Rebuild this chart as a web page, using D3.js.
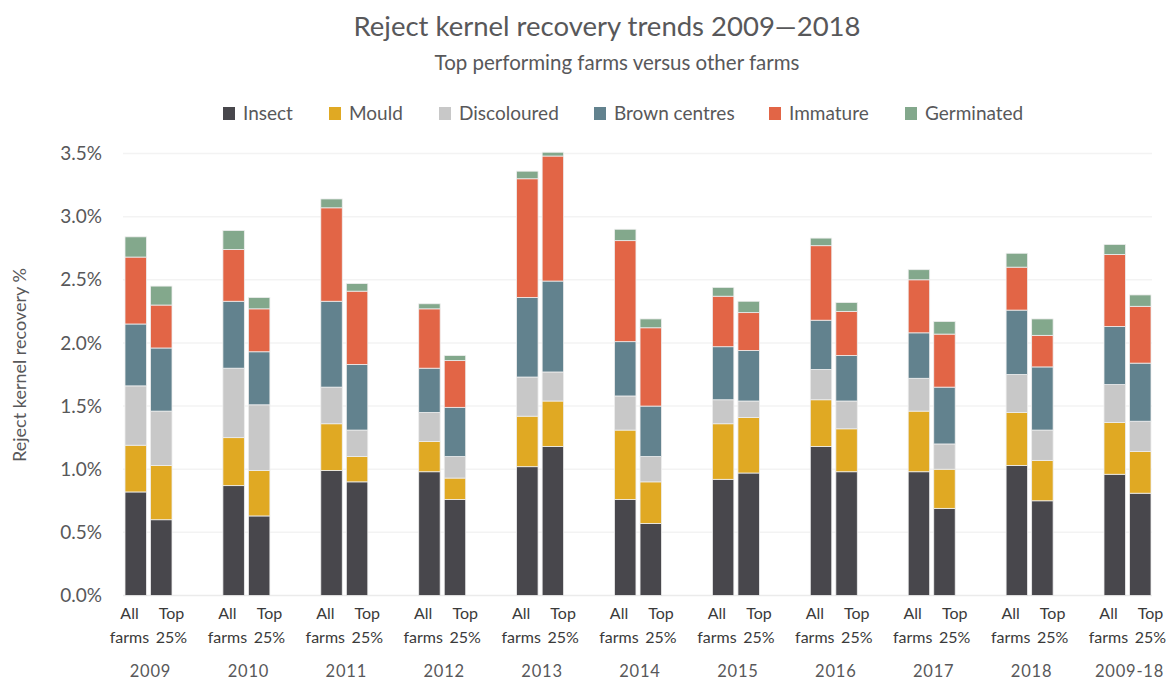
<!DOCTYPE html>
<html>
<head>
<meta charset="utf-8">
<script src="https://cdn.jsdelivr.net/npm/d3@7/dist/d3.min.js"></script>
<style>
  html, body { margin: 0; padding: 0; background: #fff; }
  svg { display: block; font-family: Lato, "Open Sans", sans-serif; }
</style>
</head>
<body>
<svg id="chart" width="1168" height="682"></svg>
<script>
// Reject kernel recovery (%) by category, stacked from Insect upwards
const years = ["2009", "2010", "2011", "2012", "2013", "2014", "2015", "2016", "2017", "2018", "2009-18"];
const groups = ["All farms", "Top 25%"];
const categories = ["Insect", "Mould", "Discoloured", "Brown centres", "Immature", "Germinated"];
const colors = ["#48474c", "#e0a923", "#c8c8c8", "#62828e", "#e26546", "#83a88c"];
const yTicks = [0, 0.5, 1.0, 1.5, 2.0, 2.5, 3.0, 3.5];

// One array per category; each holds [All farms, Top 25%] pairs in year order
const insect      = [[0.82, 0.60], [0.87, 0.63], [0.99, 0.90], [0.98, 0.76], [1.02, 1.18], [0.76, 0.57], [0.92, 0.97], [1.18, 0.98], [0.98, 0.69], [1.03, 0.75], [0.96, 0.81]];
const mould       = [[0.37, 0.43], [0.38, 0.36], [0.37, 0.20], [0.24, 0.17], [0.40, 0.36], [0.55, 0.33], [0.44, 0.44], [0.37, 0.34], [0.48, 0.31], [0.42, 0.32], [0.41, 0.33]];
const discoloured = [[0.47, 0.43], [0.55, 0.52], [0.29, 0.21], [0.23, 0.17], [0.31, 0.23], [0.27, 0.20], [0.19, 0.13], [0.24, 0.22], [0.26, 0.20], [0.30, 0.24], [0.30, 0.24]];
const brown       = [[0.49, 0.50], [0.53, 0.42], [0.68, 0.52], [0.35, 0.39], [0.63, 0.72], [0.43, 0.40], [0.42, 0.40], [0.39, 0.36], [0.36, 0.45], [0.51, 0.50], [0.46, 0.46]];
const immature    = [[0.53, 0.34], [0.41, 0.34], [0.74, 0.58], [0.47, 0.37], [0.94, 0.99], [0.80, 0.62], [0.40, 0.30], [0.59, 0.35], [0.42, 0.42], [0.34, 0.25], [0.57, 0.45]];
const germinated  = [[0.16, 0.15], [0.15, 0.09], [0.07, 0.06], [0.04, 0.04], [0.06, 0.03], [0.09, 0.07], [0.07, 0.09], [0.06, 0.07], [0.08, 0.10], [0.11, 0.13], [0.08, 0.09]];

const seriesValues = [insect, mould, discoloured, brown, immature, germinated];

// Flatten into one row per bar for d3.stack
const rows = [];
years.forEach((yr, i) => {
  groups.forEach((g, j) => {
    const row = { year: yr, group: g };
    categories.forEach((c, k) => { row[c] = seriesValues[k][i][j]; });
    rows.push(row);
  });
});

const svg = d3.select("#chart");
const textColor = "#58585a";

const x = d3.scalePoint().domain(years).range([148.5, 1127.5]);
const xInner = d3.scaleBand().domain(groups).range([-23.5, 23.5]).paddingInner(0.16);
const y = d3.scaleLinear().domain([0, 3.5]).range([595.5, 153.5]);
const color = d3.scaleOrdinal().domain(categories).range(colors);

// Title and subtitle
svg.append("text")
  .attr("x", 607).attr("y", 36)
  .attr("text-anchor", "middle")
  .attr("font-size", 27.5).attr("fill", textColor)
  .text("Reject kernel recovery trends 2009\u20142018");
svg.append("text")
  .attr("x", 617).attr("y", 70)
  .attr("text-anchor", "middle")
  .attr("font-size", 20.5).attr("fill", textColor)
  .text("Top performing farms versus other farms");

// Legend
const legendX = [243, 349, 459, 614, 789, 925];
const legend = svg.append("g").selectAll("g")
  .data(categories).join("g")
  .attr("transform", (d, i) => `translate(${legendX[i]},113)`);
legend.append("rect")
  .attr("x", -20).attr("y", -6).attr("width", 12).attr("height", 13)
  .attr("fill", d => color(d));
legend.append("text")
  .attr("x", 0).attr("y", 0).attr("dy", "0.35em")
  .attr("font-size", 19).attr("fill", textColor)
  .text(d => d);

// Gridlines
svg.append("g").selectAll("line")
  .data(yTicks).join("line")
  .attr("x1", 123).attr("x2", 1152)
  .attr("y1", d => y(d)).attr("y2", d => y(d))
  .attr("stroke", d => d === 0 ? "#ebebeb" : "#f3f3f3")
  .attr("stroke-width", 1.5);

// Y axis labels
const yAxis = d3.axisLeft(y).tickValues(yTicks)
  .tickFormat(d => d3.format(".1f")(d) + "%").tickSize(0).tickPadding(0);
svg.append("g")
  .attr("transform", "translate(102,0)")
  .call(yAxis)
  .call(g => g.select(".domain").remove())
  .call(g => g.selectAll("text")
    .attr("font-size", 19).attr("fill", textColor)
    .attr("font-family", "Lato, 'Open Sans', sans-serif"));

svg.append("text")
  .attr("transform", "translate(26,365) rotate(-90)")
  .attr("text-anchor", "middle")
  .attr("font-size", 18).attr("fill", textColor)
  .text("Reject kernel recovery %");

// Stacked bars
const stacked = d3.stack().keys(categories)(rows);
svg.append("g").selectAll("g")
  .data(stacked).join("g")
  .attr("fill", d => color(d.key))
  .selectAll("rect")
  .data(d => d).join("rect")
  .attr("x", d => x(d.data.year) + xInner(d.data.group))
  .attr("width", xInner.bandwidth())
  .attr("y", d => y(d[1]))
  .attr("height", d => y(d[0]) - y(d[1]))
  .attr("stroke", "#eeeeee")
  .attr("stroke-width", 0.8);

// Bar labels under each bar
const labelLines = { "All farms": ["All", "farms"], "Top 25%": ["Top", "25%"] };
const labelOffset = { "All farms": -19, "Top 25%": 23 };
const barLabels = svg.append("g").selectAll("text")
  .data(rows).join("text")
  .attr("text-anchor", "middle")
  .attr("font-size", 16).attr("fill", "#3a3a3a")
  .attr("transform", d => `translate(${x(d.year) + labelOffset[d.group]},0)`);
barLabels.append("tspan").attr("x", 0).attr("y", 619).text(d => labelLines[d.group][0]);
barLabels.append("tspan").attr("x", 0).attr("y", 643).text(d => labelLines[d.group][1]);

// Year labels
svg.append("g").selectAll("text")
  .data(years).join("text")
  .attr("x", d => x(d) + 2).attr("y", 677)
  .attr("text-anchor", "middle")
  .attr("font-size", 16.5).attr("fill", textColor)
  .attr("letter-spacing", 0.8)
  .text(d => d);
</script>
</body>
</html>
